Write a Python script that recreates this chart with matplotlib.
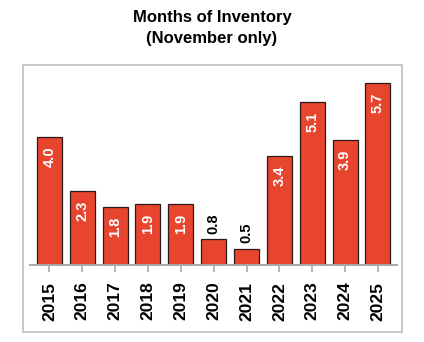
import matplotlib
matplotlib.use("Agg")
import matplotlib.pyplot as plt
from matplotlib.patches import Rectangle

years = ["2015", "2016", "2017", "2018", "2019", "2020", "2021", "2022", "2023", "2024", "2025"]
values = [4.0, 2.3, 1.8, 1.9, 1.9, 0.8, 0.5, 3.4, 5.1, 3.9, 5.7]
labels = ["4.0", "2.3", "1.8", "1.9", "1.9", "0.8", "0.5", "3.4", "5.1", "3.9", "5.7"]
title = "Months of Inventory\n(November only)"

plt.rcParams['font.family'] = ['Liberation Sans', 'DejaVu Sans']

W, H = 424, 342
fig = plt.figure(figsize=(W / 100, H / 100), dpi=100)

# outer frame
fig.patches.append(Rectangle((23 / W, 1 - 332 / H), (402 - 23) / W, (332 - 65) / H,
                             transform=fig.transFigure, fill=False,
                             edgecolor="#c4c4c4", linewidth=1.3))

ax = fig.add_axes([30 / W, 1 - 265 / H, (397 - 30) / W, 200 / H])
x = list(range(len(years)))
ax.bar(x, values, width=0.76, color="#E8452F", edgecolor="#2a1a18", linewidth=0.9, zorder=2)
ax.set_xlim(-0.59, 10.58)
ax.set_ylim(0, 6.25)

for s in ["top", "right", "left"]:
    ax.spines[s].set_visible(False)
ax.spines["bottom"].set_color("#a8a8a8")
ax.spines["bottom"].set_linewidth(1.4)
ax.set_yticks([])
ax.set_xticks(x)
ax.set_xticklabels(years, rotation=90, fontsize=12.5, fontweight="bold")
ax.tick_params(axis="x", length=5, width=1.2, color="#a8a8a8", pad=7)
ax.patch.set_alpha(0)

for xi, v, lab in zip(x, values, labels):
    if v >= 1.5:
        ax.annotate(lab, (xi, v), xytext=(0, -7), textcoords="offset points",
                    ha="center", va="top", rotation=90, color="white",
                    fontsize=10.5, fontweight="bold")
    else:
        ax.annotate(lab, (xi, v), xytext=(0, 4), textcoords="offset points",
                    ha="center", va="bottom", rotation=90, color="black",
                    fontsize=10.5, fontweight="bold")

fig.text(0.5, 1 - 10 / H, title, ha="center", va="top", fontsize=12,
         fontweight="bold", linespacing=1.5)

fig.savefig("out.png", dpi=100)
